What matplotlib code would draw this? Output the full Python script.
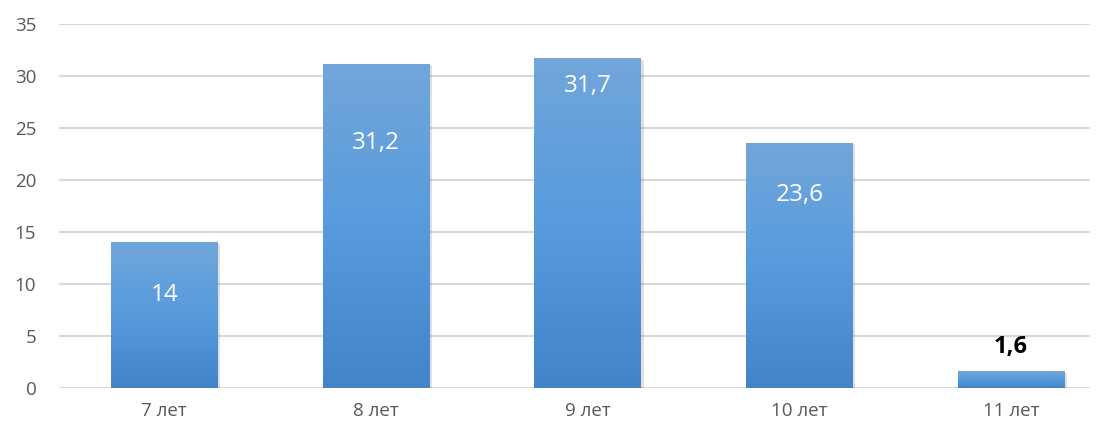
import numpy as np
import matplotlib.pyplot as plt
from matplotlib.colors import LinearSegmentedColormap

# data
categories = ['7 лет', '8 лет', '9 лет', '10 лет', '11 лет']
values = [14, 31.2, 31.7, 23.6, 1.6]
labels = ['14', '31,2', '31,7', '23,6', '1,6']
label_y = [8.9, 23.6, 29.0, 18.6, 3.9]   # where the value labels sit

plt.rcParams['font.family'] = ['Open Sans', 'DejaVu Sans']

fig = plt.figure(figsize=(11.04, 4.30), dpi=100)
ax = fig.add_axes([58.5/1104, 42/430, (1090-58.5)/1104, 364/430])

x = np.arange(len(categories))
w = 0.505
grad = LinearSegmentedColormap.from_list('g', ['#4483c8', '#579bdd', '#72a6da'])
img = np.linspace(0, 1, 256).reshape(-1, 1)

# soft shadow behind bars
for xi, v in zip(x, values):
    ax.bar(xi + 0.012, v, w, bottom=-0.12, color='#000000', alpha=0.12, zorder=2, lw=0)

bars = ax.bar(x, values, w, color='#5a9ade', zorder=3, lw=0)
for b in bars:
    x0, y0 = b.get_x(), b.get_y()
    im = ax.imshow(img, cmap=grad, origin='lower', aspect='auto',
                   extent=[x0, x0 + b.get_width(), y0, y0 + b.get_height()], zorder=4)
    im.set_clip_path(b)

for i, (lab, ly) in enumerate(zip(labels, label_y)):
    if i == len(labels) - 1:
        ax.text(x[i], ly, lab, ha='center', va='center', fontsize=17,
                fontweight='bold', color='black', zorder=5)
    else:
        ax.text(x[i], ly, lab, ha='center', va='center', fontsize=17.5,
                color='white', zorder=5)

ax.set_xlim(-0.5, 4.373)
ax.set_ylim(0, 35)
ax.set_yticks(range(0, 36, 5))
ax.set_xticks(x)
ax.set_xticklabels(categories)
ax.tick_params(axis='both', length=0, labelsize=13.5, colors='#595959')
ax.tick_params(axis='y', pad=16)
ax.tick_params(axis='x', pad=10)
ax.yaxis.grid(True, color='#d9d9d9', lw=1.5, zorder=0)
ax.set_axisbelow(True)
for s in ax.spines.values():
    s.set_visible(False)

fig.savefig('out.png', dpi=100)
